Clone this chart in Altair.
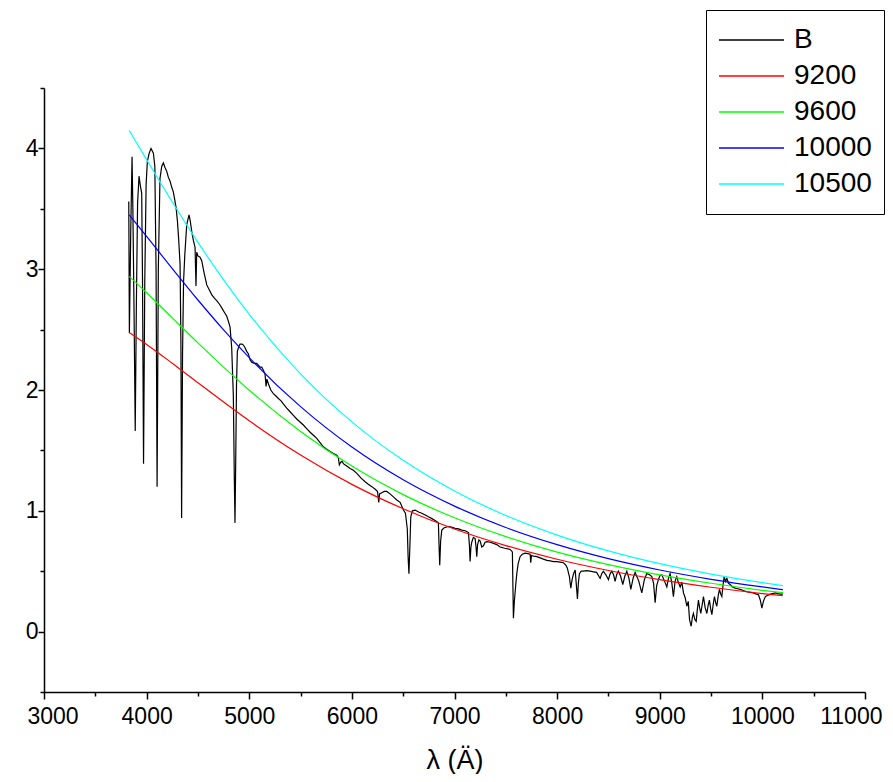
import altair as alt
import pandas as pd

# ---- observed spectrum "B" (wavelength in Angstrom, flux) ----
lam_B = [3826, 3832, 3845, 3858, 3866, 3878, 3889, 3900, 3912, 3926, 3939, 3952, 3960, 3970, 3982, 3995,
         4007, 4025, 4043, 4066, 4080, 4092, 4102, 4114, 4130, 4147, 4163, 4180, 4196, 4212, 4228, 4244,
         4260, 4275, 4287, 4300, 4312, 4326, 4334, 4341, 4350, 4360, 4372, 4391, 4413, 4425, 4440, 4455,
         4472, 4481, 4488, 4500, 4520, 4537, 4560, 4586, 4610, 4634, 4660, 4683, 4710, 4732, 4760, 4781,
         4800, 4813, 4829, 4845, 4854, 4861, 4868, 4876, 4884, 4898, 4910, 4930, 4945, 4959, 4975, 4991,
         5008, 5024, 5050, 5073, 5105, 5122, 5140, 5154, 5164, 5172, 5187, 5210, 5235, 5260, 5284, 5310,
         5332, 5365, 5398, 5430, 5463, 5495, 5527, 5560, 5593, 5625, 5658, 5690, 5722, 5755, 5788, 5820,
         5853, 5868, 5878, 5890, 5905, 5917, 5950, 5982, 6015, 6048, 6090, 6129, 6160, 6194, 6225, 6250,
         6262, 6270, 6291, 6315, 6340, 6372, 6405, 6438, 6470, 6502, 6522, 6540, 6548, 6556, 6565, 6574,
         6590, 6616, 6650, 6681, 6715, 6746, 6780, 6811, 6843, 6850, 6856, 6865, 6876, 6900, 6940, 6970,
         7006, 7040, 7071, 7105, 7136, 7145, 7152, 7160, 7168, 7184, 7201, 7210, 7217, 7225, 7238, 7250,
         7266, 7282, 7298, 7315, 7347, 7380, 7412, 7444, 7490, 7542, 7564, 7574, 7584, 7596, 7607, 7620,
         7639, 7660, 7688, 7715, 7737, 7743, 7750, 7770, 7802, 7835, 7866, 7900, 7932, 7965, 7997, 8030,
         8061, 8085, 8100, 8112, 8120, 8127, 8134, 8140, 8146, 8160, 8176, 8186, 8198, 8207, 8217, 8235,
         8256, 8290, 8322, 8355, 8385, 8405, 8419, 8435, 8451, 8475, 8500, 8517, 8533, 8550, 8565, 8580,
         8597, 8618, 8640, 8660, 8679, 8700, 8718, 8740, 8760, 8795, 8825, 8850, 8874, 8900, 8923, 8940,
         8955, 8970, 8987, 9000, 9020, 9045, 9069, 9085, 9101, 9118, 9133, 9150, 9166, 9180, 9199, 9215,
         9231, 9248, 9264, 9278, 9290, 9306, 9318, 9328, 9342, 9355, 9366, 9377, 9388, 9400, 9413, 9426,
         9442, 9459, 9472, 9484, 9496, 9508, 9520, 9533, 9545, 9556, 9570, 9582, 9594, 9605, 9616, 9628,
         9640, 9654, 9670, 9686, 9710, 9735, 9760, 9784, 9815, 9849, 9880, 9913, 9940, 9962, 9980, 9995,
         10010, 10029, 10050, 10078, 10100, 10127, 10150, 10167, 10200]
flux_B = [3.56, 2.47, 3.30, 3.93, 3.50, 2.60, 1.66, 2.70, 3.55, 3.77, 3.69, 3.63, 2.90, 1.39, 2.90, 3.70,
          3.89, 3.96, 4.00, 3.96, 3.85, 3.00, 1.20, 3.00, 3.75, 3.85, 3.88, 3.84, 3.81, 3.76, 3.73, 3.68,
          3.64, 3.57, 3.51, 3.40, 3.25, 3.04, 2.40, 0.94, 2.30, 2.90, 3.12, 3.37, 3.45, 3.40, 3.31, 3.24,
          3.18, 2.86, 3.14, 3.11, 3.10, 3.07, 2.97, 2.87, 2.83, 2.79, 2.76, 2.74, 2.71, 2.68, 2.64, 2.61,
          2.56, 2.52, 2.35, 1.95, 1.30, 0.90, 1.40, 2.05, 2.32, 2.36, 2.38, 2.38, 2.37, 2.35, 2.32, 2.30,
          2.25, 2.23, 2.22, 2.22, 2.19, 2.19, 2.16, 2.13, 2.03, 2.09, 2.05, 2.00, 1.97, 1.95, 1.93, 1.91,
          1.885, 1.85, 1.82, 1.79, 1.76, 1.735, 1.71, 1.68, 1.65, 1.625, 1.60, 1.565, 1.53, 1.51, 1.49, 1.475,
          1.46, 1.44, 1.38, 1.40, 1.41, 1.39, 1.37, 1.35, 1.335, 1.31, 1.27, 1.24, 1.22, 1.20, 1.18, 1.16,
          1.07, 1.14, 1.15, 1.16, 1.16, 1.14, 1.115, 1.09, 1.07, 1.006, 0.98, 0.85, 0.62, 0.48, 0.70, 0.95,
          1.00, 1.006, 0.99, 0.98, 0.965, 0.95, 0.935, 0.92, 0.90, 0.70, 0.55, 0.75, 0.84, 0.86, 0.87, 0.865,
          0.855, 0.85, 0.84, 0.835, 0.82, 0.72, 0.58, 0.70, 0.74, 0.78, 0.77, 0.70, 0.62, 0.72, 0.76, 0.75,
          0.70, 0.71, 0.74, 0.745, 0.74, 0.73, 0.72, 0.70, 0.69, 0.68, 0.66, 0.11, 0.26, 0.38, 0.48, 0.56,
          0.62, 0.64, 0.65, 0.645, 0.64, 0.57, 0.63, 0.625, 0.62, 0.61, 0.60, 0.59, 0.585, 0.58, 0.58, 0.575,
          0.57, 0.55, 0.525, 0.48, 0.456, 0.40, 0.36, 0.40, 0.43, 0.48, 0.51, 0.40, 0.27, 0.40, 0.48, 0.50,
          0.50, 0.505, 0.50, 0.495, 0.49, 0.46, 0.44, 0.48, 0.50, 0.47, 0.43, 0.48, 0.50, 0.47, 0.415, 0.47,
          0.50, 0.46, 0.39, 0.46, 0.50, 0.44, 0.35, 0.44, 0.49, 0.42, 0.32, 0.43, 0.48, 0.47, 0.455, 0.40,
          0.24, 0.38, 0.43, 0.46, 0.47, 0.42, 0.37, 0.44, 0.48, 0.40, 0.29, 0.42, 0.455, 0.41, 0.37, 0.41,
          0.32, 0.28, 0.21, 0.25, 0.10, 0.044, 0.12, 0.15, 0.10, 0.085, 0.18, 0.26, 0.20, 0.15, 0.22, 0.29,
          0.20, 0.15, 0.22, 0.26, 0.19, 0.14, 0.22, 0.29, 0.24, 0.21, 0.30, 0.35, 0.31, 0.29, 0.38, 0.455,
          0.415, 0.44, 0.40, 0.39, 0.37, 0.36, 0.355, 0.35, 0.34, 0.33, 0.325, 0.32, 0.31, 0.305, 0.26, 0.195,
          0.25, 0.29, 0.30, 0.31, 0.315, 0.32, 0.315, 0.31, 0.31]

# ---- blackbody comparison curves ----
lam_T = [3830, 4000, 4250, 4500, 4750, 5000, 5500, 6000, 6500, 7000, 7500, 8000, 8500, 9000, 9500, 10000, 10200]
t9200 = [2.475, 2.377, 2.221, 2.060, 1.900, 1.745, 1.462, 1.219, 1.017, 0.849, 0.712, 0.599, 0.506, 0.430, 0.367, 0.315, 0.297]
t9600 = [2.940, 2.805, 2.597, 2.390, 2.189, 1.998, 1.657, 1.370, 1.134, 0.942, 0.786, 0.658, 0.555, 0.470, 0.400, 0.342, 0.322]
t10000 = [3.450, 3.271, 3.005, 2.745, 2.498, 2.268, 1.862, 1.528, 1.257, 1.039, 0.862, 0.720, 0.604, 0.510, 0.433, 0.370, 0.347]
t10500 = [4.150, 3.907, 3.556, 3.222, 2.912, 2.627, 2.134, 1.736, 1.418, 1.164, 0.961, 0.799, 0.668, 0.562, 0.476, 0.405, 0.381]

series_names = ["B", "9200", "9600", "10000", "10500"]
series_colors = ["#000000", "#ff0000", "#00ff00", "#0000ff", "#00ffff"]

x_ticks = [3000, 3500, 4000, 4500, 5000, 5500, 6000, 6500, 7000, 7500, 8000, 8500, 9000, 9500, 10000, 10500, 11000]
y_ticks = [-0.5, 0, 0.5, 1, 1.5, 2, 2.5, 3, 3.5, 4, 4.5]

df_B = pd.DataFrame({"lam": lam_B, "flux": flux_B, "series": "B"})
curve_frames = []
for name, vals in zip(series_names[1:], [t9200, t9600, t10000, t10500]):
    curve_frames.append(pd.DataFrame({"lam": lam_T, "flux": vals, "series": name}))
df_T = pd.concat(curve_frames, ignore_index=True)

FONT = "Liberation Sans"

x_enc = alt.X(
    "lam:Q",
    scale=alt.Scale(domain=[3000, 11000], nice=False, zero=False),
    axis=alt.Axis(
        values=x_ticks,
        labelExpr="datum.value % 1000 ? '' : format(datum.value, 'd')",
        tickSize={"condition": {"test": "datum.value % 1000", "value": 4}, "value": 7},
        title="λ (Ä)",
        grid=False,
        labelFont=FONT, labelFontSize=23, labelColor="black", labelPadding=6,
        labelOverlap=False, labelFlush=True, labelFlushOffset=17,
        titleFont=FONT, titleFontSize=27, titleFontWeight="normal", titleColor="black",
        titlePadding=19,
        domainColor="black", domainWidth=1.5, tickColor="black", tickWidth=1.5,
    ),
)
y_enc = alt.Y(
    "flux:Q",
    scale=alt.Scale(domain=[-0.5, 4.5], nice=False, zero=False),
    axis=alt.Axis(
        values=y_ticks,
        labelExpr="datum.value % 1 ? '' : format(datum.value, 'd')",
        tickSize={"condition": {"test": "datum.value % 1", "value": 4}, "value": 6},
        title=None,
        grid=False,
        labelFont=FONT, labelFontSize=23, labelColor="black", labelPadding=0,
        labelOverlap=False, labelFlush=False,
        domainColor="black", domainWidth=1.5, tickColor="black", tickWidth=1.5,
    ),
)
color_enc = alt.Color(
    "series:N",
    scale=alt.Scale(domain=series_names, range=series_colors),
    sort=series_names,
    legend=alt.Legend(
        title=None, orient="none", legendX=662, legendY=-78,
        strokeColor="black", fillColor="white", padding=12, cornerRadius=0,
        labelFont=FONT, labelFontSize=28, labelColor="black", labelOffset=9, labelLimit=0,
        symbolType="stroke", symbolSize=4225, symbolStrokeWidth=1.5, symbolOpacity=1,
        clipHeight=36, rowPadding=0,
    ),
)

spec_line = alt.Chart(df_B).mark_line(strokeWidth=1.2).encode(
    x=x_enc, y=y_enc, color=color_enc, order="lam:Q"
)
curve_lines = alt.Chart(df_T).mark_line(strokeWidth=1.2, interpolate="monotone").encode(
    x=x_enc, y=y_enc, color=color_enc, order="lam:Q"
)

chart = alt.layer(spec_line, curve_lines).properties(
    width=821, height=604,
    padding={"left": 36, "top": 80, "right": 20, "bottom": 82},
    autosize=alt.AutoSizeParams(type="none"),
    background="white",
).configure_view(stroke=None)

chart.save("out.html", embed_options={"renderer": "svg", "actions": False})
